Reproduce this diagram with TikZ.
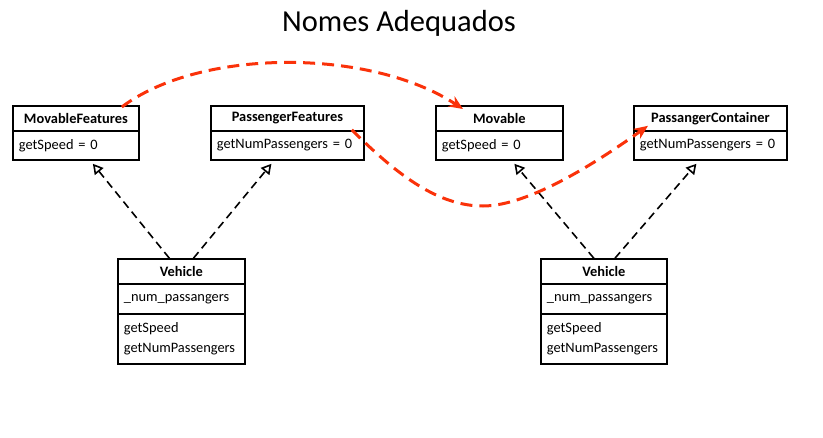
\documentclass[tikz,border=0pt]{standalone}
\usepackage{fontspec}
\setmainfont{Carlito}
\usetikzlibrary{arrows.meta,calc}
\definecolor{redc}{RGB}{250,50,10}
\begin{document}
\begin{tikzpicture}[x=1pt,y=-1pt,
 hdr/.style={draw, line width=1.8pt, anchor=north west, inner sep=0pt, font=\fontsize{14.4}{17}\selectfont\bfseries, minimum height=25pt},
 bodyc/.style={draw, line width=1.8pt, anchor=north west, inner xsep=6pt, inner ysep=0pt, font=\fontsize{14.4}{20}\selectfont, align=left},
 real/.style={dashed, dash pattern=on 8pt off 5pt, line width=1.6pt, -{Triangle[open,length=10pt,width=11pt,line width=1.6pt]}},
 rename/.style={draw=redc, line width=3pt, dash pattern=on 12pt off 7pt, -{Stealth[length=14pt,width=12pt,fill=redc]}}
]
\useasboundingbox (0,0) rectangle (823,437);

\node[font=\fontsize{30.5}{36}\selectfont, anchor=base] (title) at (399,31) {Nomes Adequados};

% MovableFeatures
\node[hdr, minimum width=126pt] (mfh) at (12,105) {MovableFeatures};
\node[bodyc, text width=114pt, minimum height=29pt] (mfb) at (12,130) {getSpeed = 0};
% PassengerFeatures
\node[hdr, minimum width=153pt] (pfh) at (210,105) {PassengerFeatures};
\node[bodyc, text width=141pt, minimum height=29pt] (pfb) at (210,130) {getNumPassengers = 0};
% Movable
\node[hdr, minimum width=127pt] (mvh) at (435,105) {Movable};
\node[bodyc, text width=115pt, minimum height=29pt] (mvb) at (435,130) {getSpeed = 0};
% PassangerContainer
\node[hdr, minimum width=153pt] (pch) at (633,105) {PassangerContainer};
\node[bodyc, text width=141pt, minimum height=29pt] (pcb) at (633,130) {getNumPassengers = 0};

% Vehicle left
\node[hdr, minimum width=127pt] (v1h) at (117,258.3) {Vehicle};
\node[bodyc, text width=115pt, minimum height=29.4pt] (v1a) at (117,283.3) {\_num\_passangers};
\node[bodyc, text width=115pt, minimum height=50.6pt] (v1m) at (117,312.7) {getSpeed\\getNumPassengers};
% Vehicle right
\node[hdr, minimum width=126pt] (v2h) at (540,258.3) {Vehicle};
\node[bodyc, text width=114pt, minimum height=29.4pt] (v2a) at (540,283.3) {\_num\_passangers};
\node[bodyc, text width=114pt, minimum height=50.6pt] (v2m) at (540,312.7) {getSpeed\\getNumPassengers};

% realizations
\draw[real] ([xshift=-12pt]v1h.north) -- ([xshift=17pt,yshift=-3pt]mfb.south);
\draw[real] ([xshift=12pt]v1h.north) -- ([xshift=-16pt,yshift=-3pt]pfb.south);
\draw[real] ([xshift=-10pt]v2h.north) -- ([xshift=15pt,yshift=-3pt]mvb.south);
\draw[real] ([xshift=11pt]v2h.north) -- ([xshift=-14pt,yshift=-3pt]pcb.south);

% renames
\draw[rename] ([xshift=-18pt,yshift=-2pt]mfh.north east) .. controls (200,48) and (370,48) .. ([xshift=28pt,yshift=-4pt]mvh.north west);
\draw[rename] ([xshift=-13pt,yshift=2pt]pfh.south east) .. controls (400,178) and (440,206) .. (483,206) .. controls (530,206) and (600,160) .. ([xshift=15pt,yshift=6pt]pch.south west);
\end{tikzpicture}
\end{document}
